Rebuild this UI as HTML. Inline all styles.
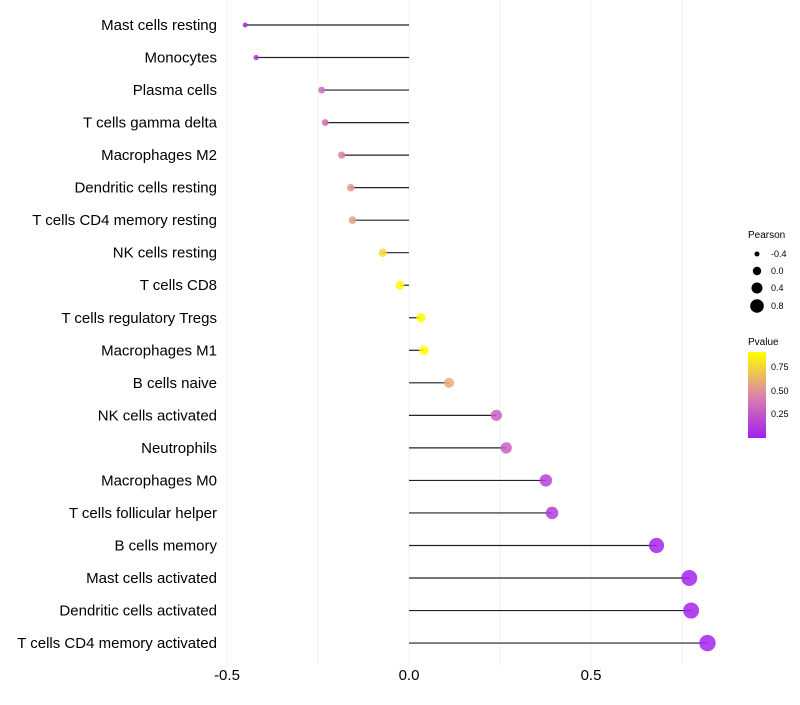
<!DOCTYPE html>
<html><head><meta charset="utf-8"><style>
body{margin:0;background:#fff;font-family:"Liberation Sans",sans-serif;}
</style></head><body>
<svg id="chart" width="800" height="700" xmlns="http://www.w3.org/2000/svg" font-family="Liberation Sans, sans-serif">
<defs><linearGradient id="pg" x1="0" y1="1" x2="0" y2="0">
<stop offset="0" stop-color="#a21ef2"/><stop offset="0.5" stop-color="#dc86a6"/><stop offset="1" stop-color="#ffff00"/></linearGradient></defs>
<g id="grid"></g><g id="marks"></g><g id="labels"></g>
<g font-size="9">
<text x="748" y="238" font-size="10">Pearson</text>
<circle cx="757" cy="254" r="2.5"/><text x="771" y="257">-0.4</text>
<circle cx="757" cy="271" r="4.2"/><text x="771" y="274">0.0</text>
<circle cx="757" cy="288" r="5.5"/><text x="771" y="291">0.4</text>
<circle cx="757" cy="306" r="6.8"/><text x="771" y="309">0.8</text>
</g>
<g font-size="9">
<text x="748" y="345" font-size="10">Pvalue</text>
<rect x="748" y="352" width="18" height="86" fill="url(#pg)"/>
<text x="771" y="370">0.75</text><text x="771" y="394">0.50</text><text x="771" y="417">0.25</text>
</g>
</svg>
<script>
const categories=["Mast cells resting","Monocytes","Plasma cells","T cells gamma delta","Macrophages M2","Dendritic cells resting","T cells CD4 memory resting","NK cells resting","T cells CD8","T cells regulatory  Tregs ","Macrophages M1","B cells naive","NK cells activated","Neutrophils","Macrophages M0","T cells follicular helper","B cells memory","Mast cells activated","Dendritic cells activated","T cells CD4 memory activated"];
const pearson=[-0.45,-0.42,-0.24,-0.23,-0.185,-0.16,-0.155,-0.072,-0.025,0.033,0.041,0.11,0.24,0.267,0.376,0.393,0.68,0.77,0.775,0.82];
const pvalues=[0.03,0.05,0.35,0.36,0.45,0.55,0.56,0.8,0.95,0.95,0.95,0.62,0.3,0.3,0.15,0.14,0.03,0.03,0.03,0.03];
const xTicks=[-0.5,0,0.5];
const xTickLabels=["-0.5","0.0","0.5"];
const gridVals=[-0.5,-0.25,0,0.25,0.5,0.75];
const NS="http://www.w3.org/2000/svg";
const xS=v=>409+v*364;
const yS=i=>25+i*32.53;
const rS=v=>4.5+4.5*v;
function lerp(a,b,t){return a.map((x,k)=>Math.round(x+(b[k]-x)*t));}
function col(p){const t=Math.min(1,p/0.95);const lo=[162,30,242],mi=[220,134,166],hi=[255,255,0];
const c=t<0.5?lerp(lo,mi,t/0.5):lerp(mi,hi,(t-0.5)/0.5);return `rgb(${c.join(',')})`;}
function mk(tag,at,parent){const e=document.createElementNS(NS,tag);for(const k in at)e.setAttribute(k,at[k]);parent.appendChild(e);return e;}
const grid=document.getElementById('grid'),marks=document.getElementById('marks'),labels=document.getElementById('labels');
gridVals.forEach(v=>{const l=mk('line',{x1:xS(v),x2:xS(v),y1:0,y2:665,stroke:'#f2f2f2','stroke-width':1},grid);

});
xTicks.forEach((v,i)=>{const t=mk('text',{x:xS(v),y:680,'text-anchor':'middle','font-size':15,fill:'#000'},labels);t.textContent=xTickLabels[i];

});
categories.forEach((c,i)=>{const y=yS(i);
const l=mk('line',{x1:xS(0),x2:xS(pearson[i]),y1:y,y2:y,stroke:'#222','stroke-width':1.2},marks);


const p=mk('circle',{cx:xS(pearson[i]),cy:y,r:rS(pearson[i]),fill:col(pvalues[i]),'fill-opacity':0.85},marks);


const t=mk('text',{x:217,y:y+5,'text-anchor':'end','font-size':15,fill:'#000'},labels);t.textContent=c;

});
</script>
</body></html>
